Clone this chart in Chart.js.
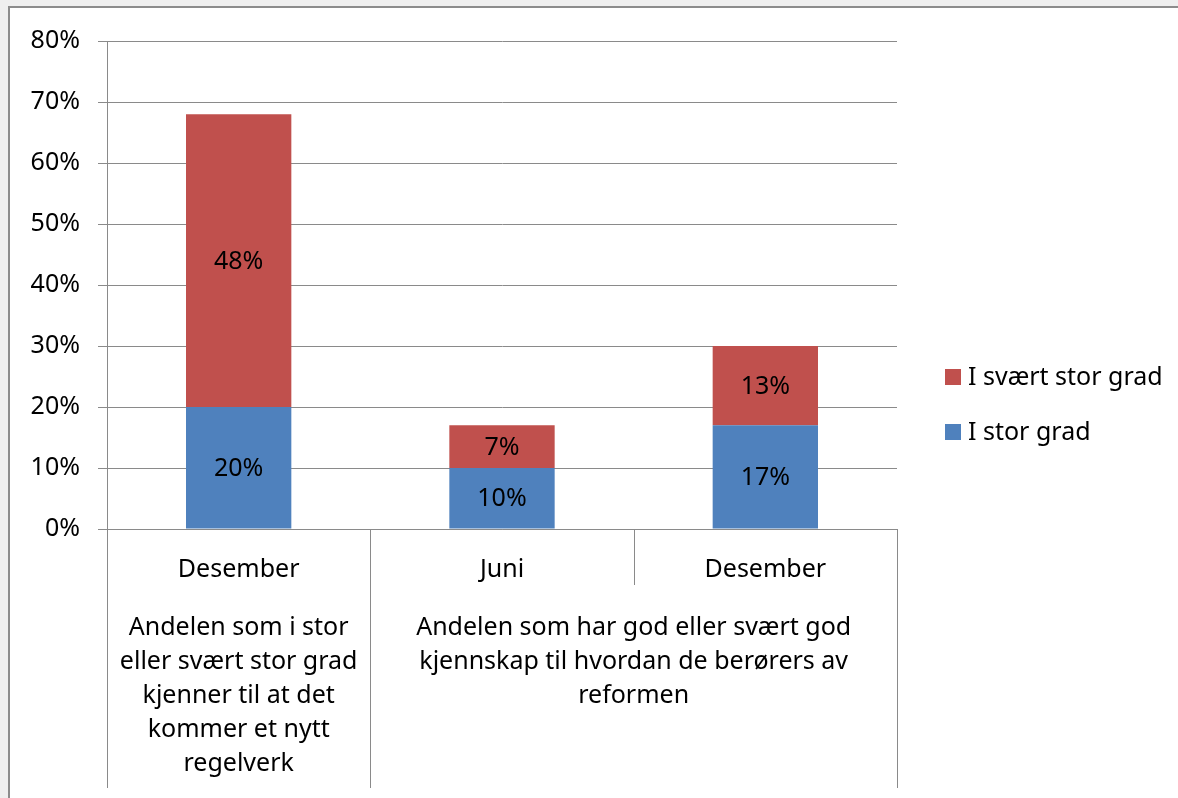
<!DOCTYPE html>
<html>
<head>
<meta charset="utf-8">
<script src="https://cdn.jsdelivr.net/npm/chart.js"></script>
<style>
  html, body { margin: 0; padding: 0; background: #efefef; }
  #frame {
    position: absolute; left: 8px; top: 6px;
    width: 1180px; height: 800px;
    border-left: 2px solid #8c8c8c; border-top: 2px solid #8c8c8c;
    background: #fff;
  }
  canvas { display: block; }
</style>
</head>
<body>
<div id="frame"><canvas id="chart" width="1168" height="790"></canvas></div>
<script>
// Data
var categories = ["Desember", "Juni", "Desember"];
var storGrad = [20, 10, 17];
var svaertStorGrad = [48, 7, 13];
var groupLabels = [
  ["Andelen som i stor", "eller svært stor grad", "kjenner til at det", "kommer et nytt", "regelverk"],
  ["Andelen som har god eller svært god", "kjennskap til hvordan de berørers av", "reformen"]
];
var groupSpans = [1, 2];

var FONT = "'Noto Sans', sans-serif";
var gridColor = "#8a8a8a";

// draws the bar value labels, group labels, separators and legend
var extras = {
  id: "extras",
  afterDatasetsDraw: function(chart) {
    var ctx = chart.ctx;
    ctx.save();
    ctx.font = "25px " + FONT;
    ctx.fillStyle = "#000";
    ctx.textAlign = "center";
    ctx.textBaseline = "middle";
    chart.data.datasets.forEach(function(ds, di) {
      var meta = chart.getDatasetMeta(di);
      meta.data.forEach(function(el, i) {
        ctx.fillText(ds.data[i] + "%", el.x, (el.y + el.base) / 2 + 1);
      });
    });
    ctx.restore();
  },
  afterDraw: function(chart) {
    var ctx = chart.ctx;
    var area = chart.chartArea;
    var catW = (area.right - area.left) / categories.length;
    var bottom = 780;

    ctx.save();
    ctx.strokeStyle = gridColor;
    ctx.lineWidth = 1;
    // separators
    var edges = [0];
    var acc = 0;
    groupSpans.forEach(function(s) { acc += s; edges.push(acc); });
    for (var j = 0; j <= categories.length; j++) {
      var x = Math.round(area.left + j * catW) + 0.5;
      var full = edges.indexOf(j) >= 0;
      ctx.beginPath();
      ctx.moveTo(x, area.bottom);
      ctx.lineTo(x, full ? bottom : 577);
      ctx.stroke();
    }

    // group labels
    ctx.font = "25px " + FONT;
    ctx.fillStyle = "#000";
    ctx.textAlign = "center";
    ctx.textBaseline = "middle";
    var start = 0;
    groupLabels.forEach(function(lines, g) {
      var cx = area.left + (start + groupSpans[g] / 2) * catW;
      lines.forEach(function(line, k) {
        ctx.fillText(line, cx, 620 + k * 34);
      });
      start += groupSpans[g];
    });

    // legend (reverse order)
    var items = chart.data.datasets.slice().reverse();
    ctx.textAlign = "left";
    items.forEach(function(ds, k) {
      var y = 369 + k * 55;
      ctx.fillStyle = ds.backgroundColor;
      ctx.fillRect(935, y - 8, 16, 16);
      ctx.fillStyle = "#000";
      ctx.fillText(ds.label, 958, y + 1);
    });
    ctx.restore();
  }
};

new Chart(document.getElementById("chart"), {
  type: "bar",
  data: {
    labels: categories,
    datasets: [
      { label: "I stor grad", data: storGrad, backgroundColor: "#4f81bd" },
      { label: "I svært stor grad", data: svaertStorGrad, backgroundColor: "#c0504d" }
    ]
  },
  options: {
    responsive: false,
    animation: false,
    layout: { padding: { top: 29, right: 281, left: 0, bottom: 0 } },
    plugins: { legend: { display: false }, tooltip: { enabled: false } },
    datasets: { bar: { categoryPercentage: 1, barPercentage: 0.4 } },
    scales: {
      x: {
        stacked: true,
        grid: { display: false, drawTicks: false },
        border: { display: true, color: gridColor },
        ticks: { color: "#000", font: { family: FONT, size: 25 }, padding: 26 },
        afterFit: function(scale) { scale.height = 269; }
      },
      y: {
        stacked: true,
        min: 0,
        max: 80,
        grid: { color: gridColor, tickLength: 9 },
        border: { display: true, color: gridColor },
        ticks: {
          stepSize: 10,
          color: "#000",
          padding: 18,
          font: { family: FONT, size: 25 },
          callback: function(v) { return v + "%"; }
        },
        afterFit: function(scale) { scale.width = 97; }
      }
    }
  },
  plugins: [extras]
});
</script>
</body>
</html>
